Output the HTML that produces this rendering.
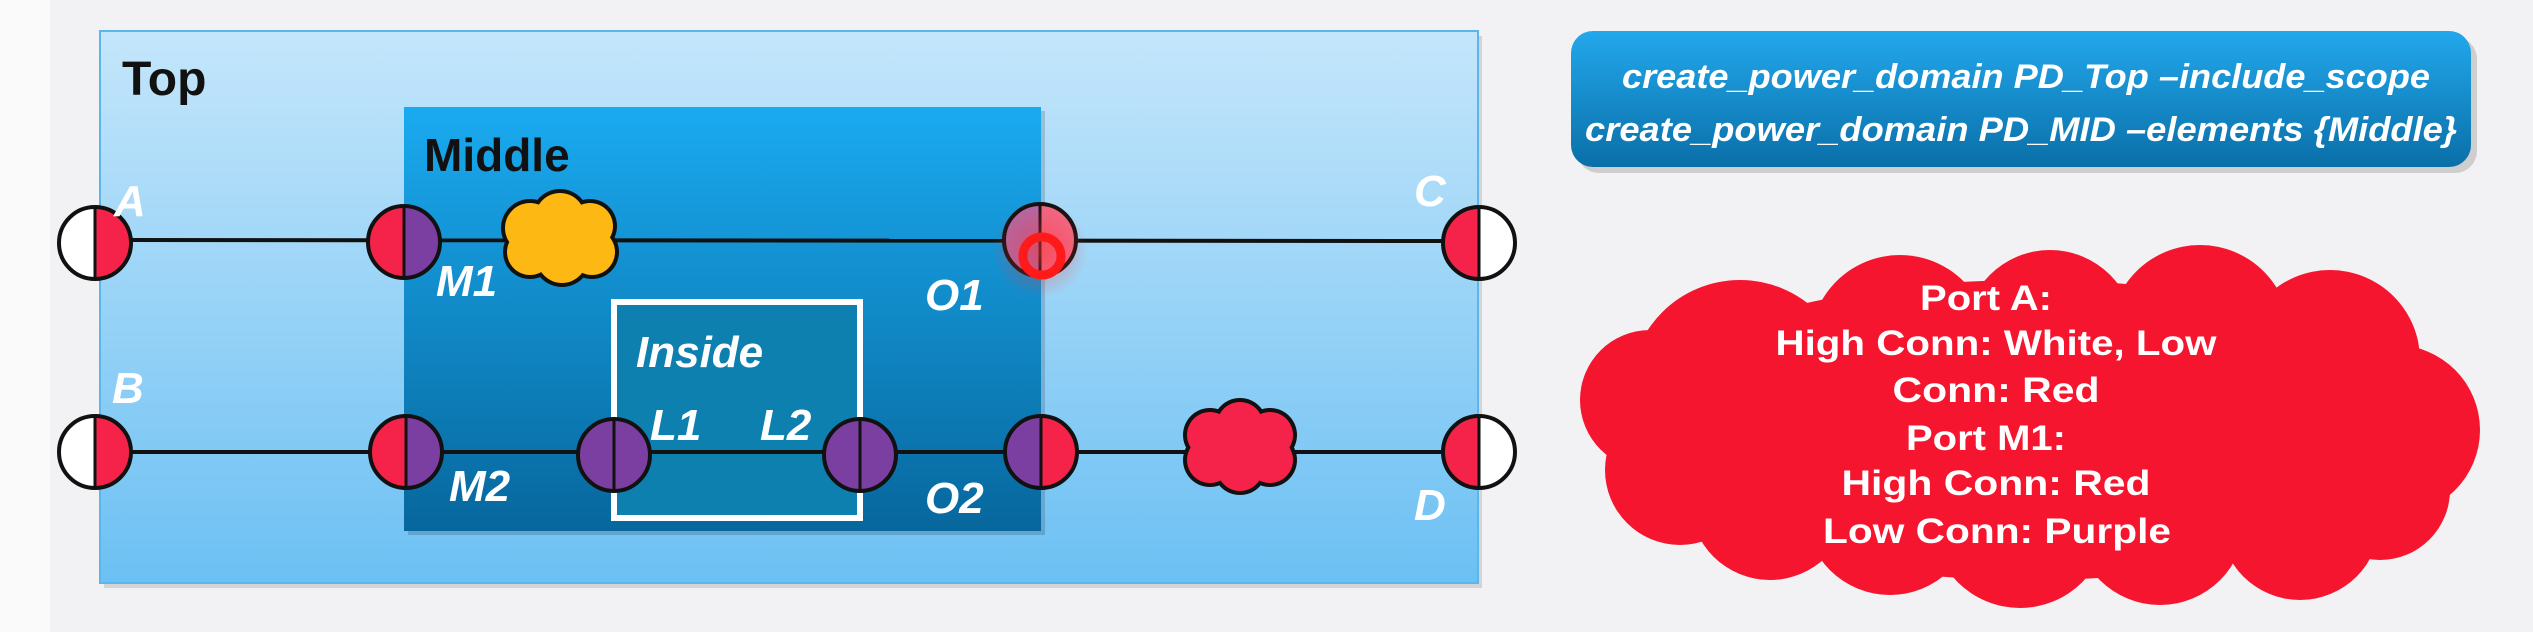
<!DOCTYPE html>
<html><head><meta charset="utf-8"><style>
html,body{margin:0;padding:0;background:#f2f2f4;}
svg{display:block;}
text{font-family:"Liberation Sans",sans-serif;font-weight:bold;}
</style></head><body>
<svg width="2533" height="632" viewBox="0 0 2533 632" xmlns="http://www.w3.org/2000/svg">
<defs>
<linearGradient id="topg" x1="0" y1="0" x2="0" y2="1"><stop offset="0" stop-color="#c4e6fb"/><stop offset="1" stop-color="#6cc0f3"/></linearGradient>
<linearGradient id="midg" x1="0" y1="0" x2="0" y2="1"><stop offset="0" stop-color="#1aaaf0"/><stop offset="1" stop-color="#07679d"/></linearGradient>
<linearGradient id="cmdg" x1="0" y1="0" x2="0" y2="1"><stop offset="0" stop-color="#22a8ec"/><stop offset="1" stop-color="#0a6fa8"/></linearGradient>
<radialGradient id="glow"><stop offset="0" stop-color="#ff3030" stop-opacity="0.5"/><stop offset="1" stop-color="#ff3030" stop-opacity="0"/></radialGradient>
</defs>
<rect x="0" y="0" width="50" height="632" fill="#fafafb"/>
<rect x="104" y="36" width="1378" height="552" fill="#000" opacity="0.12"/>
<rect x="100" y="31" width="1378" height="552" fill="url(#topg)" stroke="#5bb6ea" stroke-width="2"/>
<text x="122" y="95" font-size="48" fill="#111">Top</text>
<rect x="408" y="111" width="637" height="424" fill="#000" opacity="0.15"/>
<rect x="404" y="107" width="637" height="424" fill="url(#midg)"/>
<text x="424" y="171" font-size="46" fill="#111">Middle</text>
<rect x="614" y="302" width="246" height="216" fill="#0e80b0" stroke="#fff" stroke-width="6"/>
<g stroke="#111" stroke-width="4">
<line x1="95" y1="240" x2="1479" y2="241"/>
<line x1="95" y1="452" x2="1479" y2="452"/>
</g>
<g>
<g fill="#111"><circle cx="530" cy="228" r="29"/><circle cx="560" cy="218" r="29"/><circle cx="590" cy="226" r="27"/><circle cx="592" cy="252" r="27"/><circle cx="562" cy="258" r="29"/><circle cx="530" cy="252" r="27"/></g>
<g fill="#fdb814"><circle cx="530" cy="228" r="25"/><circle cx="560" cy="218" r="25"/><circle cx="590" cy="226" r="23"/><circle cx="592" cy="252" r="23"/><circle cx="562" cy="258" r="25"/><circle cx="530" cy="252" r="23"/><circle cx="560" cy="240" r="30"/></g>
</g>
<g>
<g fill="#111"><circle cx="1210" cy="435" r="27"/><circle cx="1240" cy="425" r="27"/><circle cx="1270" cy="435" r="27"/><circle cx="1270" cy="460" r="27"/><circle cx="1240" cy="468" r="27"/><circle cx="1210" cy="460" r="27"/></g>
<g fill="#f5234a"><circle cx="1210" cy="435" r="23"/><circle cx="1240" cy="425" r="23"/><circle cx="1270" cy="435" r="23"/><circle cx="1270" cy="460" r="23"/><circle cx="1240" cy="468" r="23"/><circle cx="1210" cy="460" r="23"/><circle cx="1240" cy="447" r="28"/></g>
</g>
<g id="ports"></g>
<circle cx="1040" cy="250" r="48" fill="url(#glow)"/>
<g fill="#fff" font-style="italic" font-size="44">
<text x="114" y="216">A</text>
<text x="112" y="403">B</text>
<text x="1414" y="206">C</text>
<text x="1414" y="520">D</text>
<text x="436" y="296">M1</text>
<text x="925" y="310">O1</text>
<text x="449" y="501">M2</text>
<text x="925" y="513">O2</text>
<text x="636" y="367">Inside</text>
<text x="650" y="440">L1</text>
<text x="760" y="440">L2</text>
</g>
<rect x="1577" y="37" width="900" height="136" rx="22" fill="#000" opacity="0.15"/>
<rect x="1571" y="31" width="900" height="136" rx="22" fill="url(#cmdg)"/>
<g fill="#fff" font-style="italic" font-size="34" text-anchor="middle">
<text x="2026" y="88" textLength="808" lengthAdjust="spacingAndGlyphs">create_power_domain PD_Top –include_scope</text>
<text x="2021" y="141" textLength="872" lengthAdjust="spacingAndGlyphs">create_power_domain PD_MID –elements {Middle}</text>
</g>
<g fill="#f5152e">
<ellipse cx="2030" cy="430" rx="420" ry="150"/>
<circle cx="1740" cy="390" r="110"/><circle cx="1900" cy="345" r="90"/><circle cx="2050" cy="335" r="85"/><circle cx="2200" cy="335" r="90"/><circle cx="2330" cy="360" r="90"/>
<circle cx="2395" cy="430" r="85"/><circle cx="2380" cy="490" r="70"/><circle cx="2300" cy="520" r="80"/><circle cx="2160" cy="520" r="85"/><circle cx="2020" cy="520" r="88"/><circle cx="1890" cy="510" r="85"/><circle cx="1770" cy="500" r="80"/><circle cx="1680" cy="470" r="75"/><circle cx="1650" cy="400" r="70"/>
</g>
<g fill="#fff" font-size="35" text-anchor="middle">
<text x="1986" y="310" textLength="132" lengthAdjust="spacingAndGlyphs">Port A:</text>
<text x="1996" y="355" textLength="441" lengthAdjust="spacingAndGlyphs">High Conn: White,  Low</text>
<text x="1996" y="402" textLength="207" lengthAdjust="spacingAndGlyphs">Conn:  Red</text>
<text x="1986" y="450" textLength="160" lengthAdjust="spacingAndGlyphs">Port M1:</text>
<text x="1996" y="495" textLength="309" lengthAdjust="spacingAndGlyphs">High Conn:  Red</text>
<text x="1997" y="543" textLength="348" lengthAdjust="spacingAndGlyphs">Low Conn:  Purple</text>
</g>
<circle cx="1042" cy="256" r="19" fill="none" stroke="#ff1a1a" stroke-width="9"/>
</svg>
<script>
const portNames=['a','m1','o1','c','b','m2','l1','l2','o2','d'];
const portX=[95,404,1040,1479,95,406,614,860,1041,1479];
const portY=[243,242,240,243,452,452,455,455,452,452];
const portLeft=['#fff','#f5234a','#b06aa8','#f5234a','#fff','#f5234a','#7a3fa0','#7a3fa0','#7a3fa0','#f5234a'];
const portRight=['#f5234a','#7a3fa0','#f06a88','#fff','#f5234a','#7a3fa0','#7a3fa0','#7a3fa0','#f5234a','#fff'];
const NS='http://www.w3.org/2000/svg';
const g=document.getElementById('ports');
for(let i=0;i<portNames.length;i++){
  const x=portX[i],y=portY[i],r=36;
  const p=document.createElementNS(NS,'g');
  
  
  const l=document.createElementNS(NS,'path');
  l.setAttribute('d',`M${x},${y-r} A${r},${r} 0 0 0 ${x},${y+r} Z`);
  l.setAttribute('fill',portLeft[i]);
  const rr=document.createElementNS(NS,'path');
  rr.setAttribute('d',`M${x},${y-r} A${r},${r} 0 0 1 ${x},${y+r} Z`);
  rr.setAttribute('fill',portRight[i]);
  const c=document.createElementNS(NS,'circle');
  c.setAttribute('cx',x);c.setAttribute('cy',y);c.setAttribute('r',r);
  c.setAttribute('fill','none');c.setAttribute('stroke','#111');c.setAttribute('stroke-width','4');
  const d=document.createElementNS(NS,'line');
  d.setAttribute('x1',x);d.setAttribute('x2',x);d.setAttribute('y1',y-r);d.setAttribute('y2',y+r);
  d.setAttribute('stroke','#111');d.setAttribute('stroke-width','3');
  p.appendChild(l);p.appendChild(rr);p.appendChild(c);p.appendChild(d);
  g.appendChild(p);
}
</script>
</body></html>
